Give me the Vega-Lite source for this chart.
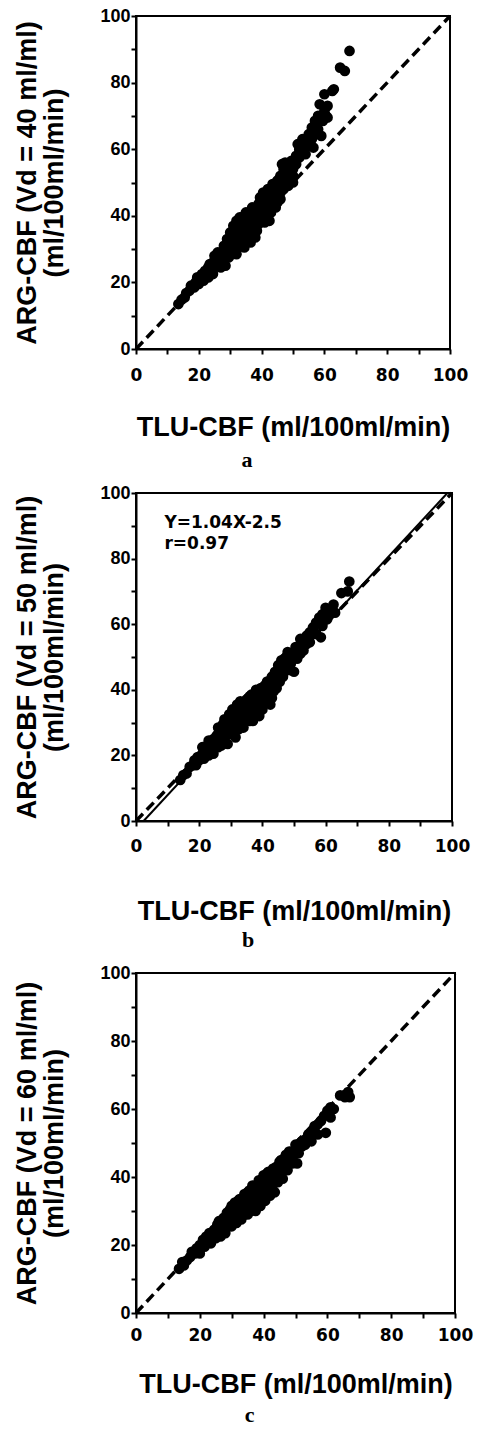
{
  "$schema": "https://vega.github.io/schema/vega-lite/v6.json",
  "padding": {"left": 12, "top": 6, "right": 0, "bottom": 0},
  "spacing": 11,
  "config": {
    "font": "Liberation Sans",
    "view": {"stroke": "black", "strokeWidth": 2},
    "axis": {"grid": false, "domainColor": "black", "domainWidth": 2, "tickColor": "black", "tickWidth": 2, "tickSize": 5, "labelColor": "black", "titleColor": "black", "labelFontWeight": "bold", "titleFontWeight": "bold", "titleFont": "Liberation Sans", "titleFontSize": 27, "labelFontSize": 17, "labelOverlap": false, "labelFlush": false},
    "axisX": {"labelFont": "DejaVu Sans"},
    "axisY": {"labelFont": "Liberation Sans", "labelFontSize": 18, "labelPadding": 1, "titlePadding": 31, "titleLineHeight": 27}
  },
  "datasets": {
    "a": [
      {"x":13.5,"y":13.5},{"x":14.5,"y":14.8},{"x":15.5,"y":15.5},{"x":16,"y":16.8},{"x":17,"y":17.5},{"x":17.5,"y":19},{"x":18.5,"y":18.5},{"x":19,"y":20},{"x":19.5,"y":21.5},{"x":20,"y":19.5},{"x":20.5,"y":21},{"x":21,"y":22.5},{"x":21.5,"y":20.5},{"x":22,"y":23.5},{"x":22.5,"y":22},{"x":23,"y":24.5},{"x":23,"y":21.5},{"x":23.5,"y":25.5},{"x":24,"y":23.5},{"x":24.5,"y":26},{"x":24.5,"y":22.5},{"x":25,"y":24.5},{"x":25.5,"y":27.5},{"x":26,"y":25},{"x":26,"y":29},{"x":26.5,"y":27},{"x":27,"y":29},{"x":27,"y":24.5},{"x":27.5,"y":26.5},{"x":28,"y":31},{"x":28,"y":28},{"x":28.5,"y":25},{"x":29,"y":33},{"x":29,"y":29.5},{"x":29.5,"y":27.5},{"x":30,"y":31},{"x":30,"y":35},{"x":30.5,"y":28.5},{"x":30.5,"y":33},{"x":31,"y":37},{"x":31,"y":30},{"x":31.5,"y":34.5},{"x":32,"y":32},{"x":32,"y":38.5},{"x":32,"y":28.5},{"x":32.5,"y":36},{"x":33,"y":33.5},{"x":33,"y":39.5},{"x":33.5,"y":31},{"x":34,"y":37.5},{"x":34,"y":34.5},{"x":34.5,"y":40},{"x":34.5,"y":30.5},{"x":35,"y":36},{"x":35,"y":33},{"x":35.5,"y":39},{"x":36,"y":41},{"x":36,"y":35},{"x":36.5,"y":37.5},{"x":36.5,"y":32},{"x":37,"y":42.5},{"x":37,"y":39.5},{"x":37.5,"y":36.5},{"x":38,"y":42},{"x":38,"y":33.5},{"x":38.5,"y":40},{"x":39,"y":43.5},{"x":39,"y":37.5},{"x":39.5,"y":45.5},{"x":40,"y":41},{"x":40,"y":38.5},{"x":40.5,"y":47},{"x":41,"y":43},{"x":41,"y":40},{"x":41.5,"y":45},{"x":42,"y":48},{"x":42,"y":41.5},{"x":42.5,"y":38.5},{"x":43,"y":46},{"x":43,"y":43.5},{"x":43.5,"y":49.5},{"x":44,"y":44.5},{"x":44,"y":47.5},{"x":44.5,"y":42.5},{"x":45,"y":50.5},{"x":45,"y":46},{"x":45.5,"y":48},{"x":46,"y":52},{"x":46,"y":45},{"x":46.5,"y":50},{"x":46.5,"y":55.5},{"x":47,"y":54},{"x":47,"y":48},{"x":47.5,"y":56},{"x":48,"y":51},{"x":48,"y":55},{"x":48.5,"y":49},{"x":49,"y":53},{"x":49.5,"y":56.5},{"x":50,"y":54},{"x":50,"y":50},{"x":51,"y":58},{"x":51,"y":55.5},{"x":51.5,"y":61.5},{"x":52,"y":57.5},{"x":53,"y":63},{"x":53,"y":59.5},{"x":54,"y":58.5},{"x":54,"y":62},{"x":55,"y":64.5},{"x":55,"y":61},{"x":56,"y":66.5},{"x":56,"y":63},{"x":56.5,"y":60.5},{"x":57,"y":68.5},{"x":57,"y":64.5},{"x":58,"y":70},{"x":58,"y":66},{"x":58.5,"y":73.5},{"x":59,"y":64},{"x":59.5,"y":68.5},{"x":60,"y":76.5},{"x":60,"y":71.5},{"x":60.5,"y":70},{"x":61,"y":69.5},{"x":61,"y":73},{"x":62.5,"y":77.5},{"x":63,"y":78},{"x":65,"y":84.5},{"x":66.5,"y":83.5},{"x":68,"y":89.5},
      {"x":28,"y":29.5},{"x":29,"y":31.5},{"x":31,"y":32.5},{"x":33,"y":35.5},{"x":34,"y":32.5},{"x":35,"y":38.5},{"x":36,"y":38.5},{"x":37,"y":34.5},{"x":38,"y":37},{"x":39,"y":41},{"x":40,"y":43.5},{"x":41,"y":38},{"x":42,"y":45},{"x":43,"y":41},{"x":44,"y":49.5},{"x":46,"y":48.5},{"x":47,"y":51},{"x":49,"y":50.5},{"x":52,"y":60},{"x":33,"y":37.5},{"x":31.5,"y":36},{"x":30,"y":33},{"x":27,"y":27.5},{"x":25,"y":28},{"x":37.5,"y":42},{"x":35,"y":41},
      {"x":29.5,"y":30.5},{"x":31,"y":34.5},{"x":32.5,"y":30.5},{"x":33.5,"y":38},{"x":34,"y":36},{"x":35.5,"y":35},{"x":36.5,"y":40},{"x":37,"y":37.5},{"x":38.5,"y":38.5},{"x":39.5,"y":40},{"x":40.5,"y":44.5},{"x":41.5,"y":42},{"x":42.5,"y":46.5},{"x":43.5,"y":44.5},{"x":44.5,"y":46},{"x":45.5,"y":51},{"x":46,"y":47},{"x":47.5,"y":53},{"x":48,"y":53},{"x":49,"y":55},{"x":50,"y":52},{"x":51,"y":57},{"x":52,"y":59},{"x":53,"y":61},{"x":55,"y":62.5},{"x":24,"y":24.5},{"x":26.5,"y":28.5},{"x":22.5,"y":23.5},
      {"x":28.5,"y":30},{"x":29.5,"y":32},{"x":30.5,"y":31},{"x":31.5,"y":31.5},{"x":32,"y":34},{"x":32.5,"y":37.5},{"x":33.5,"y":34},{"x":34.5,"y":35},{"x":35,"y":39.5},{"x":35.5,"y":37},{"x":36,"y":37},{"x":36.5,"y":34.5},{"x":37,"y":41},{"x":38,"y":39.5},{"x":38.5,"y":35.5},{"x":39,"y":39},{"x":39.5,"y":42.5},{"x":40,"y":40},{"x":40.5,"y":42},{"x":41,"y":46},{"x":41.5,"y":40},{"x":42,"y":43},{"x":43,"y":48},{"x":43.5,"y":46.5},{"x":44.5,"y":48.5},{"x":45,"y":44},{"x":45.5,"y":47},{"x":47,"y":52.5},{"x":48.5,"y":52}
    ],
    "b": [
      {"x":14,"y":12.5},{"x":15,"y":14},{"x":16,"y":14.5},{"x":17,"y":16.5},{"x":18,"y":17},{"x":18.5,"y":18.5},{"x":19,"y":17},{"x":19.5,"y":19.5},{"x":20,"y":18.5},{"x":21,"y":20.5},{"x":21,"y":22.5},{"x":21.5,"y":19},{"x":22,"y":21},{"x":22.5,"y":23},{"x":23,"y":20},{"x":23,"y":24.5},{"x":24,"y":22.5},{"x":24.5,"y":25},{"x":24.5,"y":20.5},{"x":25,"y":23.5},{"x":25.5,"y":26},{"x":26,"y":22.5},{"x":26,"y":28.5},{"x":26.5,"y":25},{"x":27,"y":27},{"x":27,"y":23},{"x":27.5,"y":29.5},{"x":28,"y":25.5},{"x":28,"y":31},{"x":28.5,"y":27.5},{"x":29,"y":23.5},{"x":29,"y":29.5},{"x":29.5,"y":32.5},{"x":30,"y":26.5},{"x":30,"y":31},{"x":30.5,"y":34},{"x":31,"y":28.5},{"x":31,"y":33},{"x":31.5,"y":25.5},{"x":32,"y":35.5},{"x":32,"y":30.5},{"x":32.5,"y":28},{"x":33,"y":33},{"x":33,"y":36.5},{"x":33.5,"y":31},{"x":34,"y":34.5},{"x":34,"y":28.5},{"x":34.5,"y":36.5},{"x":35,"y":32},{"x":35,"y":35.5},{"x":35.5,"y":37.5},{"x":36,"y":30.5},{"x":36,"y":34},{"x":36.5,"y":38.5},{"x":37,"y":36.5},{"x":37,"y":30.5},{"x":37.5,"y":33.5},{"x":38,"y":38.5},{"x":38,"y":40},{"x":38.5,"y":35.5},{"x":39,"y":32},{"x":39,"y":39.5},{"x":39.5,"y":37},{"x":40,"y":40},{"x":40,"y":34},{"x":40.5,"y":38.5},{"x":41,"y":41.5},{"x":41,"y":36.5},{"x":41.5,"y":40.5},{"x":42,"y":42.5},{"x":42,"y":38.5},{"x":42.5,"y":35.5},{"x":43,"y":42},{"x":43,"y":44},{"x":43.5,"y":39.5},{"x":44,"y":45.5},{"x":44,"y":43},{"x":44.5,"y":40.5},{"x":45,"y":45},{"x":45,"y":47.5},{"x":45.5,"y":42.5},{"x":46,"y":47},{"x":46,"y":49},{"x":46.5,"y":44},{"x":47,"y":48.5},{"x":47,"y":45.5},{"x":47.5,"y":50},{"x":48,"y":47},{"x":48,"y":49.5},{"x":49,"y":48},{"x":49,"y":51},{"x":50,"y":50},{"x":50,"y":45.5},{"x":50.5,"y":53},{"x":51,"y":51.5},{"x":52,"y":53},{"x":52,"y":55.5},{"x":53,"y":55},{"x":53,"y":52},{"x":54,"y":56.5},{"x":55,"y":57.5},{"x":55,"y":54.5},{"x":56,"y":59},{"x":57,"y":60.5},{"x":57,"y":57},{"x":58,"y":62},{"x":58.5,"y":56},{"x":59,"y":63},{"x":59,"y":59.5},{"x":60,"y":65},{"x":60.5,"y":61.5},{"x":61,"y":63.5},{"x":62.5,"y":66},{"x":63,"y":63.5},{"x":65,"y":69.5},{"x":67,"y":70},{"x":67.5,"y":73},
      {"x":28,"y":28.5},{"x":29,"y":26.5},{"x":30,"y":29},{"x":31,"y":30.5},{"x":32,"y":33},{"x":33,"y":29.5},{"x":34,"y":32},{"x":35,"y":37},{"x":36,"y":36.5},{"x":37,"y":33},{"x":38,"y":36},{"x":39,"y":38},{"x":40,"y":37},{"x":41,"y":39.5},{"x":42,"y":41},{"x":43,"y":37.5},{"x":44,"y":44.5},{"x":45,"y":46},{"x":46,"y":45},{"x":47,"y":47.5},{"x":48,"y":48.5},{"x":49,"y":46},{"x":36,"y":33},{"x":33,"y":34.5},{"x":26,"y":26.5},{"x":25,"y":24.5},
      {"x":29.5,"y":30},{"x":31,"y":31.5},{"x":32.5,"y":33.5},{"x":33.5,"y":35},{"x":34.5,"y":33.5},{"x":35.5,"y":34},{"x":36.5,"y":35.5},{"x":37.5,"y":37.5},{"x":38.5,"y":37.5},{"x":39.5,"y":39},{"x":40.5,"y":41},{"x":41.5,"y":38},{"x":42.5,"y":40},{"x":43.5,"y":42},{"x":44.5,"y":43.5},{"x":45.5,"y":45.5},{"x":46.5,"y":47.5},{"x":48,"y":51.5},{"x":49.5,"y":49.5},{"x":51,"y":49.5},{"x":52,"y":51},{"x":54,"y":54},{"x":56,"y":57},{"x":24,"y":23.5},{"x":26.5,"y":27},{"x":22.5,"y":21.5},
      {"x":28.5,"y":29},{"x":29.5,"y":28},{"x":30.5,"y":31.5},{"x":31.5,"y":30},{"x":32,"y":31.5},{"x":32.5,"y":35},{"x":33.5,"y":33},{"x":34,"y":35.5},{"x":34.5,"y":31},{"x":35,"y":34},{"x":35.5,"y":36},{"x":36,"y":38},{"x":36.5,"y":32.5},{"x":37,"y":38},{"x":37.5,"y":35.5},{"x":38,"y":34.5},{"x":38.5,"y":39.5},{"x":39,"y":35},{"x":39.5,"y":40.5},{"x":40,"y":38.5},{"x":40.5,"y":36},{"x":41,"y":38},{"x":41.5,"y":42.5},{"x":42,"y":39.5},{"x":43,"y":40.5},{"x":44,"y":42},{"x":45,"y":43.5},{"x":46,"y":46.5},{"x":47,"y":49.5},{"x":48.5,"y":49.5}
    ],
    "c": [
      {"x":13.5,"y":13},{"x":14.5,"y":15},{"x":15,"y":14},{"x":16,"y":15.5},{"x":17,"y":16.5},{"x":17.5,"y":18},{"x":18.5,"y":17.5},{"x":19,"y":19},{"x":20,"y":17.5},{"x":20,"y":20},{"x":21,"y":21.5},{"x":21.5,"y":19.5},{"x":22,"y":22.5},{"x":22.5,"y":21},{"x":23,"y":23.5},{"x":23.5,"y":20.5},{"x":24,"y":22.5},{"x":24.5,"y":24.5},{"x":25,"y":22},{"x":25.5,"y":26},{"x":26,"y":24},{"x":26,"y":27},{"x":26.5,"y":22.5},{"x":27,"y":26},{"x":27.5,"y":28},{"x":27.5,"y":24},{"x":28,"y":23.5},{"x":28,"y":27.5},{"x":28.5,"y":29.5},{"x":29,"y":25.5},{"x":29.5,"y":28.5},{"x":30,"y":31.5},{"x":30,"y":25.5},{"x":30.5,"y":27},{"x":31,"y":30},{"x":31,"y":32.5},{"x":31.5,"y":26.5},{"x":32,"y":32},{"x":32,"y":28.5},{"x":32.5,"y":33.5},{"x":33,"y":30.5},{"x":33,"y":27.5},{"x":33.5,"y":33.5},{"x":34,"y":35},{"x":34,"y":29},{"x":34.5,"y":31.5},{"x":35,"y":34},{"x":35,"y":29},{"x":35.5,"y":36},{"x":36,"y":32.5},{"x":36,"y":30},{"x":36.5,"y":37.5},{"x":37,"y":35},{"x":37.5,"y":31.5},{"x":37.5,"y":30},{"x":38,"y":37.5},{"x":38,"y":33.5},{"x":38.5,"y":39},{"x":39,"y":35.5},{"x":39,"y":31.5},{"x":39.5,"y":38},{"x":40,"y":40.5},{"x":40,"y":36.5},{"x":40.5,"y":33},{"x":41,"y":39},{"x":41.5,"y":41.5},{"x":42,"y":37.5},{"x":42,"y":34.5},{"x":42.5,"y":40.5},{"x":43,"y":42.5},{"x":43,"y":36},{"x":43.5,"y":35.5},{"x":44,"y":41.5},{"x":44.5,"y":38.5},{"x":45,"y":44.5},{"x":45,"y":42.5},{"x":45.5,"y":41},{"x":46,"y":43.5},{"x":46,"y":39.5},{"x":46.5,"y":45.5},{"x":47,"y":44.5},{"x":47.5,"y":42},{"x":48,"y":46},{"x":48,"y":47.5},{"x":49,"y":44},{"x":49,"y":47},{"x":50,"y":47.5},{"x":50,"y":49.5},{"x":50.5,"y":44},{"x":51,"y":47},{"x":51.5,"y":50},{"x":52,"y":49},{"x":53,"y":51},{"x":53,"y":49.5},{"x":54,"y":52.5},{"x":55,"y":53},{"x":55,"y":50.5},{"x":56,"y":55},{"x":57,"y":55.5},{"x":57,"y":52.5},{"x":58,"y":56.5},{"x":59,"y":58},{"x":59.5,"y":53},{"x":60,"y":59.5},{"x":61,"y":57.5},{"x":61,"y":60.5},{"x":62,"y":60},{"x":64,"y":64},{"x":65.5,"y":63.5},{"x":66.5,"y":65},{"x":67,"y":63.5},
      {"x":28,"y":25.5},{"x":29,"y":27.5},{"x":30,"y":29.5},{"x":31,"y":28},{"x":32,"y":30.5},{"x":33,"y":32},{"x":34,"y":32.5},{"x":35,"y":31.5},{"x":36,"y":35},{"x":37,"y":33},{"x":38,"y":35.5},{"x":39,"y":37.5},{"x":40,"y":38.5},{"x":41,"y":36},{"x":42,"y":39.5},{"x":43,"y":39},{"x":44,"y":43},{"x":45,"y":40},{"x":47,"y":46.5},{"x":48,"y":44.5},{"x":25,"y":24},{"x":27,"y":24.5},
      {"x":29.5,"y":30.5},{"x":31,"y":31},{"x":32.5,"y":31.5},{"x":33.5,"y":31},{"x":34.5,"y":34},{"x":35.5,"y":33.5},{"x":36.5,"y":34},{"x":37.5,"y":36.5},{"x":38.5,"y":34.5},{"x":39.5,"y":36.5},{"x":40.5,"y":39.5},{"x":41.5,"y":38},{"x":42.5,"y":37},{"x":43.5,"y":40.5},{"x":44.5,"y":42.5},{"x":45.5,"y":43.5},{"x":46.5,"y":42.5},{"x":47.5,"y":45},{"x":49,"y":45.5},{"x":51,"y":48.5},{"x":52,"y":50.5},{"x":54,"y":51},{"x":56,"y":53.5},{"x":24,"y":23},{"x":26.5,"y":25.5},{"x":22.5,"y":22.5},
      {"x":28.5,"y":27},{"x":29.5,"y":26.5},{"x":30.5,"y":29},{"x":31.5,"y":29.5},{"x":32,"y":33},{"x":32.5,"y":29.5},{"x":33.5,"y":32.5},{"x":34,"y":30.5},{"x":34.5,"y":33},{"x":35,"y":35.5},{"x":35.5,"y":31},{"x":36,"y":33.5},{"x":36.5,"y":36},{"x":37,"y":32},{"x":37.5,"y":34.5},{"x":38,"y":32},{"x":38.5,"y":36},{"x":39,"y":39},{"x":39.5,"y":34},{"x":40,"y":35},{"x":40.5,"y":37.5},{"x":41,"y":41},{"x":41.5,"y":35},{"x":42,"y":41},{"x":42.5,"y":38.5},{"x":43,"y":40.5},{"x":44,"y":39.5},{"x":44.5,"y":40.5},{"x":45.5,"y":45},{"x":46.5,"y":44}
    ],
    "diag": [{"x": 0, "y": 0}, {"x": 100, "y": 100}],
    "reg": [{"x": 2.4, "y": 0}, {"x": 98.56, "y": 100}],
    "eq": [{"x": 9, "y": 91, "t": "Y=1.04X-2.5"}, {"x": 9, "y": 84.5, "t": "r=0.97"}]
  },
  "vconcat": [
    {
      "width": 314, "height": 333,
      "title": {"text": "a", "orient": "bottom", "anchor": "middle", "dx": -46, "offset": 10, "font": "Liberation Serif", "fontSize": 22, "fontWeight": "bold", "color": "black"},
      "encoding": {
        "x": {"field": "x", "type": "quantitative", "scale": {"domain": [0, 100], "nice": false, "zero": false},
          "axis": {"values": [0,10,20,30,40,50,60,70,80,90,100], "labelExpr": "datum.value % 20 === 0 ? datum.label : ''", "labelPadding": 13, "titlePadding": 31, "title": "TLU-CBF  (ml/100ml/min)"}},
        "y": {"field": "y", "type": "quantitative", "scale": {"domain": [0, 100], "nice": false, "zero": false},
          "axis": {"values": [0,10,20,30,40,50,60,70,80,90,100], "labelExpr": "datum.value % 20 === 0 ? datum.label : ''", "title": ["ARG-CBF  (Vd = 40 ml/ml)", "(ml/100ml/min)"]}}
      },
      "layer": [
        {"data": {"name": "a"}, "mark": {"type": "circle", "size": 115, "color": "black", "opacity": 1}, "encoding": {}},
        {"data": {"name": "diag"}, "mark": {"type": "line", "color": "black", "strokeWidth": 3.5, "strokeDash": [10, 5.5]}, "encoding": {}}
      ]
    },
    {
      "width": 316, "height": 328,
      "title": {"text": "b", "orient": "bottom", "anchor": "middle", "dx": -46, "offset": 6, "font": "Liberation Serif", "fontSize": 22, "fontWeight": "bold", "color": "black"},
      "encoding": {
        "x": {"field": "x", "type": "quantitative", "scale": {"domain": [0, 100], "nice": false, "zero": false},
          "axis": {"values": [0,10,20,30,40,50,60,70,80,90,100], "labelExpr": "datum.value % 20 === 0 ? datum.label : ''", "labelPadding": 12, "titlePadding": 44, "title": "TLU-CBF  (ml/100ml/min)"}},
        "y": {"field": "y", "type": "quantitative", "scale": {"domain": [0, 100], "nice": false, "zero": false},
          "axis": {"values": [0,10,20,30,40,50,60,70,80,90,100], "labelExpr": "datum.value % 20 === 0 ? datum.label : ''", "title": ["ARG-CBF  (Vd = 50 ml/ml)", "(ml/100ml/min)"]}}
      },
      "layer": [
        {"data": {"name": "b"}, "mark": {"type": "circle", "size": 115, "color": "black", "opacity": 1}, "encoding": {}},
        {"data": {"name": "diag"}, "mark": {"type": "line", "color": "black", "strokeWidth": 3.5, "strokeDash": [10, 5.5]}, "encoding": {}},
        {"data": {"name": "reg"}, "mark": {"type": "line", "color": "black", "strokeWidth": 2}, "encoding": {}},
        {"data": {"name": "eq"}, "mark": {"type": "text", "align": "left", "baseline": "middle", "font": "DejaVu Sans", "fontWeight": "bold", "fontSize": 17, "color": "black"}, "encoding": {"text": {"field": "t", "type": "nominal"}}}
      ]
    },
    {
      "width": 319, "height": 340,
      "title": {"text": "c", "orient": "bottom", "anchor": "middle", "dx": -46, "offset": 8, "font": "Liberation Serif", "fontSize": 22, "fontWeight": "bold", "color": "black"},
      "encoding": {
        "x": {"field": "x", "type": "quantitative", "scale": {"domain": [0, 100], "nice": false, "zero": false},
          "axis": {"values": [0,10,20,30,40,50,60,70,80,90,100], "labelExpr": "datum.value % 20 === 0 ? datum.label : ''", "labelPadding": 9, "titlePadding": 28, "title": "TLU-CBF  (ml/100ml/min)"}},
        "y": {"field": "y", "type": "quantitative", "scale": {"domain": [0, 100], "nice": false, "zero": false},
          "axis": {"values": [0,10,20,30,40,50,60,70,80,90,100], "labelExpr": "datum.value % 20 === 0 ? datum.label : ''", "title": ["ARG-CBF  (Vd = 60 ml/ml)", "(ml/100ml/min)"]}}
      },
      "layer": [
        {"data": {"name": "c"}, "mark": {"type": "circle", "size": 115, "color": "black", "opacity": 1}, "encoding": {}},
        {"data": {"name": "diag"}, "mark": {"type": "line", "color": "black", "strokeWidth": 3.5, "strokeDash": [10, 5.5]}, "encoding": {}}
      ]
    }
  ]
}
